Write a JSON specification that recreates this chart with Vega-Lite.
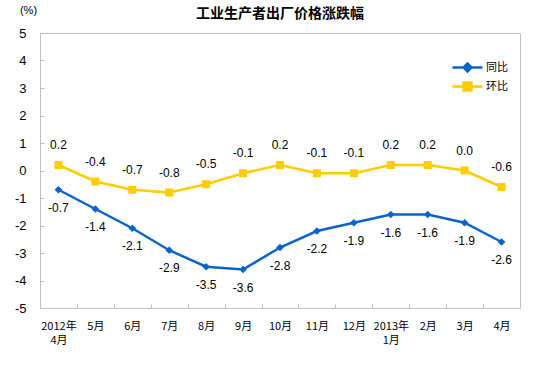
{
  "$schema": "https://vega.github.io/schema/vega-lite/v6.json",
  "width": 480,
  "height": 275,
  "autosize": {"type": "none"},
  "padding": {"left": 40, "top": 33, "right": 34, "bottom": 64},
  "background": "white",
  "config": {
    "locale": {"number": {"decimal": ".", "thousands": ",", "grouping": [3], "currency": ["$", ""], "minus": "-"}},
    "view": {"stroke": "#BFBFBF", "strokeWidth": 1}
  },
  "title": {"text": "工业生产者出厂价格涨跌幅", "font": "Noto Sans CJK SC", "fontSize": 14, "fontWeight": "bold", "color": "#000000", "anchor": "middle", "frame": "group", "offset": -17},
  "data": {"values": [
    {"month": "2012年 4月", "series": "同比", "value": -0.7},
    {"month": "5月", "series": "同比", "value": -1.4},
    {"month": "6月", "series": "同比", "value": -2.1},
    {"month": "7月", "series": "同比", "value": -2.9},
    {"month": "8月", "series": "同比", "value": -3.5},
    {"month": "9月", "series": "同比", "value": -3.6},
    {"month": "10月", "series": "同比", "value": -2.8},
    {"month": "11月", "series": "同比", "value": -2.2},
    {"month": "12月", "series": "同比", "value": -1.9},
    {"month": "2013年 1月", "series": "同比", "value": -1.6},
    {"month": "2月", "series": "同比", "value": -1.6},
    {"month": "3月", "series": "同比", "value": -1.9},
    {"month": "4月", "series": "同比", "value": -2.6},
    {"month": "2012年 4月", "series": "环比", "value": 0.2},
    {"month": "5月", "series": "环比", "value": -0.4},
    {"month": "6月", "series": "环比", "value": -0.7},
    {"month": "7月", "series": "环比", "value": -0.8},
    {"month": "8月", "series": "环比", "value": -0.5},
    {"month": "9月", "series": "环比", "value": -0.1},
    {"month": "10月", "series": "环比", "value": 0.2},
    {"month": "11月", "series": "环比", "value": -0.1},
    {"month": "12月", "series": "环比", "value": -0.1},
    {"month": "2013年 1月", "series": "环比", "value": 0.2},
    {"month": "2月", "series": "环比", "value": 0.2},
    {"month": "3月", "series": "环比", "value": 0.0},
    {"month": "4月", "series": "环比", "value": -0.6}
  ]},
  "encoding": {
    "x": {
      "field": "month", "type": "ordinal", "sort": null,
      "scale": {"type": "band", "paddingInner": 0, "paddingOuter": 0},
      "axis": {
        "title": null, "labelAngle": 0, "domain": false, "grid": false,
        "tickBand": "extent", "tickSize": -4, "tickColor": "#BFBFBF",
        "labelExpr": "split(datum.label, ' ')",
        "labelFont": "Noto Sans CJK SC", "labelFontSize": 11, "labelColor": "#000000",
        "labelPadding": 16, "labelLineHeight": 14, "labelBaseline": "top"
      }
    },
    "y": {
      "field": "value", "type": "quantitative",
      "scale": {"domain": [-5, 5], "nice": false},
      "axis": {
        "values": [-5, -4, -3, -2, -1, 0, 1, 2, 3, 4, 5], "format": "d",
        "grid": false, "domain": false, "tickSize": -4, "tickColor": "#BFBFBF",
        "labelFont": "Liberation Sans", "labelFontSize": 13, "labelColor": "#000000",
        "labelPadding": 18,
        "title": "(%)", "titleAngle": 0, "titleFont": "Liberation Sans", "titleFontSize": 11,
        "titleFontWeight": "normal", "titleColor": "#000000",
        "titleX": -12, "titleY": -23, "titleAlign": "center", "titleBaseline": "middle"
      }
    }
  },
  "layer": [
    {
      "mark": {"type": "line", "strokeWidth": 2.5},
      "encoding": {
        "color": {
          "field": "series", "type": "nominal",
          "scale": {"domain": ["同比", "环比"], "range": ["#0A64C8", "#FFCC00"]},
          "legend": {
            "title": null, "orient": "none", "legendX": 421, "legendY": 28,
            "padding": 0, "symbolSize": 100, "symbolStrokeWidth": 2.5,
            "symbolType": "M-3,0H3M0,-0.8L0.8,0L0,0.8L-0.8,0Z",
            "labelFont": "Noto Sans CJK SC", "labelFontSize": 11, "labelColor": "#000000",
            "labelOffset": 12, "rowPadding": 0,
            "encode": {
              "symbols": {
                "update": {
                  "shape": {"signal": "datum.value === '同比' ? 'M-3,0H3M0,-0.8L0.8,0L0,0.8L-0.8,0Z' : 'M-3,0H3M-0.8,-0.8H0.8V0.8H-0.8Z'"},
                  "fill": {"signal": "datum.value === '同比' ? '#0A64C8' : '#FFCC00'"},
                  "stroke": {"signal": "datum.value === '同比' ? '#0A64C8' : '#FFCC00'"},
                  "strokeWidth": {"value": 2.5},
                  "fillOpacity": {"value": 1},
                  "strokeOpacity": {"value": 1}
                }
              }
            }
          }
        }
      }
    },
    {
      "transform": [{"filter": "datum.series === '同比'"}],
      "mark": {"type": "point", "filled": true, "opacity": 1, "size": 60, "shape": "diamond", "color": "#0A64C8"}
    },
    {
      "transform": [{"filter": "datum.series === '环比'"}],
      "mark": {"type": "point", "filled": true, "opacity": 1, "size": 64, "shape": "square", "color": "#FFCC00"}
    },
    {
      "transform": [{"filter": "datum.series === '同比'"}],
      "mark": {"type": "text", "dy": 18, "font": "Liberation Sans", "fontSize": 12, "color": "#000000"},
      "encoding": {"text": {"field": "value", "type": "quantitative", "format": ".1f"}}
    },
    {
      "transform": [{"filter": "datum.series === '环比'"}],
      "mark": {"type": "text", "dy": -20, "font": "Liberation Sans", "fontSize": 12, "color": "#000000"},
      "encoding": {"text": {"field": "value", "type": "quantitative", "format": ".1f"}}
    }
  ]
}
